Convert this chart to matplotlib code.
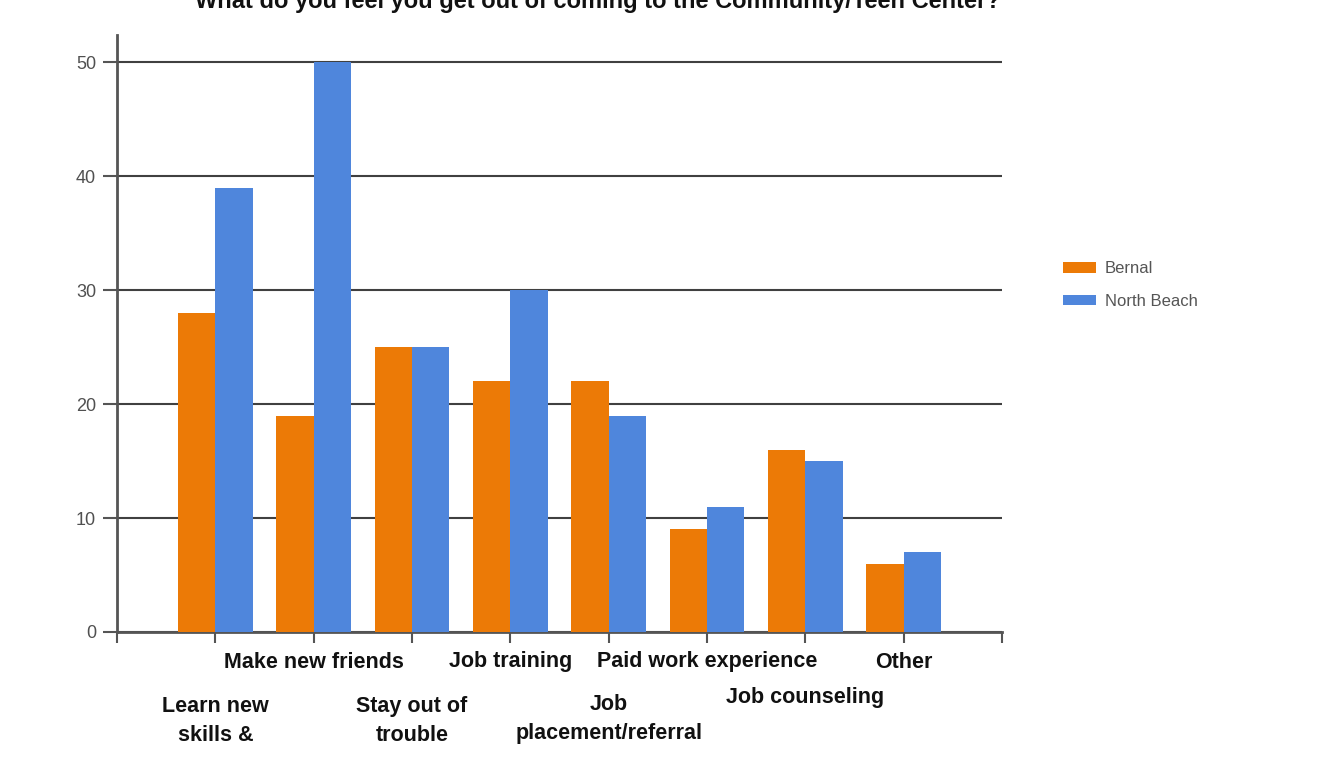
import matplotlib.pyplot as plt
import matplotlib.transforms as mtransforms
import numpy as np

title = "What do you feel you get out of coming to the Community/Teen Center?"
categories = ['Learn new\nskills &', 'Make new friends', 'Stay out of\ntrouble', 'Job training',
              'Job\nplacement/referral', 'Paid work experience', 'Job counseling', 'Other']
bernal = [28, 19, 25, 22, 22, 9, 16, 6]
north_beach = [39, 50, 25, 30, 19, 11, 15, 7]
y_ticks = [0, 10, 20, 30, 40, 50]

# staggered label rows (offset of label centre below the axis, in pixels)
label_offsets = [89, 30, 89, 30, 87, 30, 66, 30]

plt.rcParams['font.family'] = ['Liberation Sans', 'DejaVu Sans']

fig = plt.figure(figsize=(13.29, 7.58), dpi=100)
ax = fig.add_axes([117/1329, 1 - 632/758, (1002 - 117)/1329, (632 - 35)/758])

x = np.arange(1, len(categories) + 1)
width = 0.38
orange = '#EC7A06'
blue = '#4F86DC'

ax.bar(x - width/2, bernal, width, color=orange, label='Bernal', zorder=3)
ax.bar(x + width/2, north_beach, width, color=blue, label='North Beach', zorder=3)

ax.set_xlim(0, 9)
ax.set_ylim(0, 52.4)
ax.set_yticks(y_ticks)
ax.set_xticks(np.arange(0, 10))
ax.set_xticklabels([])
ax.grid(axis='y', color='#404040', linewidth=1.5, zorder=1)
ax.grid(axis='x', visible=False)

for s in ['top', 'right']:
    ax.spines[s].set_visible(False)
for s in ['left', 'bottom']:
    ax.spines[s].set_color('#555555')
    ax.spines[s].set_linewidth(2)
ax.tick_params(axis='y', length=10, width=1.5, color='#555555', labelsize=13,
               labelcolor='#505050', pad=5)
ax.tick_params(axis='x', length=8, width=1.5, color='#555555')

# category labels below axis, two staggered rows
for xi, lab, off in zip(x, categories, label_offsets):
    trans = mtransforms.offset_copy(ax.get_xaxis_transform(), fig=fig, x=0, y=-off, units='dots')
    ax.text(xi, 0, lab, transform=trans, ha='center', va='center', fontsize=15.5,
            fontweight='bold', color='#111111', linespacing=1.55)

# title is mostly cut off at the top edge in the original
fig.text(598/1329, 1 - 8/758, title, ha='center', va='baseline', fontsize=17,
         fontweight='bold', color='#111111')

fig.legend(loc='center left', bbox_to_anchor=(1048/1329, 1 - 285/758), frameon=False,
           fontsize=12, handlelength=2.0, handleheight=0.6, labelspacing=1.05,
           labelcolor='#555555', handletextpad=0.5)

fig.savefig('out.png', dpi=100, facecolor='white')
